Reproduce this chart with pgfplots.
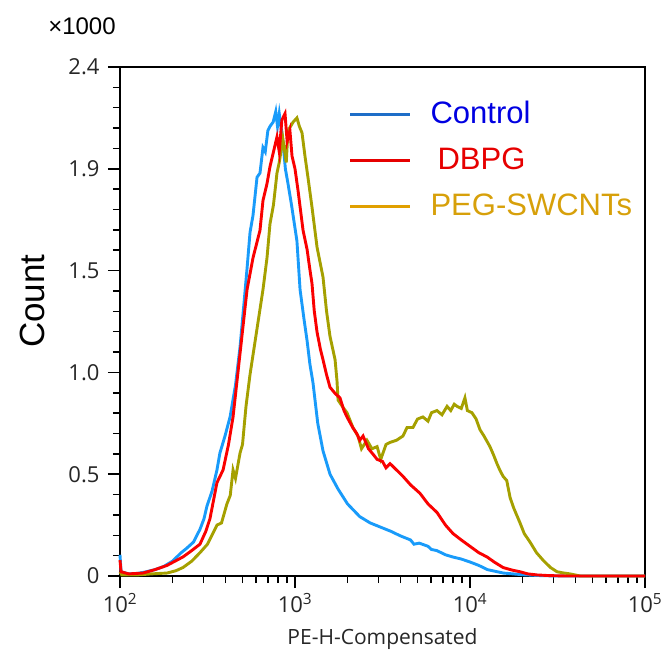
\documentclass[border=0pt]{standalone}
\usepackage{pgfplots}
\usepackage{pgfplotstable}
\pgfplotsset{compat=1.18}
\usepackage{fontspec}
\setmainfont{Liberation Sans}
\newfontfamily\tickfont{Open Sans}
\definecolor{ctrl}{RGB}{25,155,250}
\definecolor{dbpg}{RGB}{250,0,0}
\definecolor{peg}{RGB}{165,160,0}
\definecolor{legctrl}{RGB}{30,110,200}
\definecolor{legdbpg}{RGB}{230,0,0}
\definecolor{legpeg}{RGB}{225,160,0}
\definecolor{txtctrl}{RGB}{0,0,225}
\definecolor{txtdbpg}{RGB}{230,0,0}
\definecolor{txtpeg}{RGB}{215,160,10}

\pgfplotstableread{
lx y
2.000 0.10
2.006 0.02
2.05 0.01
2.10 0.012
2.15 0.02
2.20 0.03
2.25 0.045
2.30 0.07
2.35 0.11
2.38 0.13
2.42 0.16
2.457 0.22
2.48 0.27
2.497 0.33
2.526 0.40
2.554 0.50
2.571 0.58
2.60 0.66
2.629 0.75
2.66 0.90
2.686 1.08
2.71 1.30
2.726 1.45
2.743 1.62
2.76 1.70
2.783 1.88
2.80 1.90
2.817 2.02
2.83 2.00
2.845 2.10
2.857 2.12
2.875 2.14
2.89 2.19
2.90 2.12
2.91 2.18
2.931 2.05
2.945 1.92
2.96 1.85
2.98 1.75
3.011 1.58
3.029 1.35
3.05 1.22
3.069 1.11
3.085 1.00
3.103 0.91
3.13 0.72
3.16 0.59
3.20 0.48
3.246 0.41
3.30 0.34
3.37 0.28
3.43 0.25
3.49 0.23
3.55 0.21
3.60 0.19
3.63 0.18
3.66 0.17
3.68 0.15
3.71 0.155
3.76 0.14
3.78 0.125
3.81 0.12
3.86 0.10
3.90 0.09
3.95 0.08
4.00 0.066
4.05 0.05
4.10 0.03
4.19 0.014
4.30 0.006
4.40 0.002
4.50 0
5.00 0
}\ctrltable

\pgfplotstableread{
lx y
2.000 0.075
2.006 0.02
2.05 0.01
2.131 0.014
2.20 0.03
2.269 0.05
2.36 0.09
2.41 0.12
2.457 0.15
2.49 0.21
2.514 0.27
2.554 0.44
2.589 0.50
2.62 0.62
2.646 0.75
2.686 1.05
2.726 1.35
2.76 1.50
2.80 1.63
2.817 1.77
2.84 1.85
2.857 1.93
2.877 2.00
2.897 2.07
2.91 2.00
2.925 2.15
2.943 2.18
2.955 2.05
2.971 2.10
2.983 1.98
3.00 1.92
3.017 1.82
3.046 1.63
3.069 1.54
3.086 1.44
3.097 1.38
3.11 1.25
3.126 1.15
3.145 1.07
3.16 1.02
3.18 0.95
3.20 0.89
3.23 0.86
3.257 0.84
3.28 0.78
3.297 0.75
3.33 0.70
3.354 0.67
3.37 0.64
3.389 0.66
3.42 0.60
3.45 0.57
3.469 0.55
3.50 0.54
3.52 0.51
3.543 0.53
3.58 0.50
3.617 0.47
3.66 0.43
3.714 0.39
3.76 0.34
3.811 0.30
3.86 0.24
3.903 0.20
3.95 0.17
4.00 0.14
4.05 0.11
4.097 0.09
4.14 0.065
4.189 0.04
4.24 0.028
4.286 0.02
4.33 0.01
4.383 0.005
4.45 0.002
4.55 0
5.00 0
}\dbpgtable

\pgfplotstableread{
lx y
2.000 0.02
2.01 0.005
2.10 0.005
2.18 0.01
2.269 0.014
2.32 0.025
2.36 0.04
2.41 0.07
2.457 0.11
2.50 0.15
2.554 0.24
2.58 0.25
2.611 0.34
2.63 0.38
2.646 0.50
2.66 0.46
2.686 0.58
2.70 0.62
2.72 0.80
2.743 0.95
2.78 1.15
2.817 1.35
2.84 1.50
2.857 1.66
2.877 1.75
2.897 1.90
2.91 1.95
2.931 2.06
2.95 1.95
2.96 2.10
2.989 2.14
3.011 2.16
3.025 2.12
3.04 2.09
3.057 1.98
3.074 1.88
3.097 1.74
3.126 1.55
3.16 1.41
3.18 1.25
3.20 1.13
3.229 1.02
3.24 0.92
3.246 0.83
3.27 0.80
3.297 0.77
3.331 0.70
3.36 0.66
3.38 0.60
3.411 0.64
3.44 0.60
3.469 0.61
3.49 0.55
3.503 0.58
3.52 0.62
3.543 0.63
3.58 0.64
3.617 0.66
3.64 0.70
3.674 0.70
3.70 0.74
3.731 0.75
3.76 0.73
3.78 0.77
3.811 0.78
3.84 0.76
3.869 0.80
3.89 0.78
3.91 0.81
3.926 0.80
3.95 0.79
3.971 0.84
3.985 0.78
4.011 0.77
4.035 0.74
4.057 0.69
4.08 0.66
4.114 0.61
4.135 0.57
4.154 0.53
4.17 0.50
4.189 0.47
4.21 0.45
4.229 0.37
4.25 0.32
4.286 0.25
4.31 0.20
4.343 0.16
4.38 0.11
4.417 0.075
4.46 0.04
4.497 0.02
4.53 0.015
4.571 0.01
4.63 0
5.00 0
}\pegtable

\begin{document}
\begin{tikzpicture}
\begin{axis}[
  name=ax,
  scale only axis,
  width=525bp, height=509bp,
  xmin=2, xmax=5, ymin=0, ymax=2.4,
  clip=false,
  axis line style={line width=2bp, black},
  tick pos=left, tick align=outside,
  major tick length=12bp, minor tick length=7bp,
  every tick/.style={line width=1.5bp, black},
  xtick={2,3,4,5},
  xticklabels={10\textsuperscript{2},10\textsuperscript{3},10\textsuperscript{4},10\textsuperscript{5}},
  minor xtick={2.301,2.477,2.602,2.699,2.778,2.845,2.903,2.954,
               3.301,3.477,3.602,3.699,3.778,3.845,3.903,3.954,
               4.301,4.477,4.602,4.699,4.778,4.845,4.903,4.954},
  ytick={0,0.48,0.96,1.44,1.92,2.4},
  yticklabels={0,0.5,1.0,1.5,1.9,2.4},
  minor y tick num=4,
  /pgf/number format/assume math mode=true,
  ticklabel style={font=\tickfont\fontsize{22bp}{26bp}\selectfont, text=black!85},
  yticklabel style={xshift=-5bp},
  xticklabel style={yshift=-2bp},
  xlabel={PE-H-Compensated},
  xlabel style={font=\tickfont\fontsize{21bp}{25bp}\selectfont, text=black!85, at={(axis description cs:0.5,-0.097)}, anchor=north},
  ylabel={Count},
  ylabel style={font=\fontsize{35bp}{40bp}\selectfont, at={(axis description cs:-0.143,0.54)}, anchor=south, inner sep=0pt},
  legend style={at={(0.43,0.94)}, anchor=north west, draw=none, fill=none,
     font=\fontsize{31bp}{35bp}\selectfont,
     nodes={text height=22bp, text depth=3bp, inner sep=2bp},
     row sep=17bp},
  legend cell align=left,
  legend image code/.code={\draw[#1] (0bp,0bp) -- (60bp,0bp);},
  /tikz/every even column/.append style={column sep=0bp},
]
\addplot[ctrl, line width=2.9bp, forget plot] table[x=lx,y=y] {\ctrltable};
\addplot[peg, line width=2.9bp, forget plot] table[x=lx,y=y] {\pegtable};
\addplot[dbpg, line width=2.9bp, forget plot] table[x=lx,y=y] {\dbpgtable};
\addlegendimage{legctrl, line width=2.6bp}
\addlegendentry{\hspace{17bp}\textcolor{txtctrl}{Control}}
\addlegendimage{legdbpg, line width=2.6bp}
\addlegendentry{\hspace{24bp}\textcolor{txtdbpg}{DBPG}}
\addlegendimage{legpeg, line width=2.6bp}
\addlegendentry{\hspace{17bp}\textcolor{txtpeg}{PEG-SWCNTs}}
\node[anchor=base west, font=\fontsize{24bp}{28bp}\selectfont, inner sep=0pt] at (axis description cs:-0.137,1.063) {×1000};
\end{axis}
\pgfresetboundingbox
\path ([shift={(-120bp,-83bp)}]ax.south west) rectangle ([shift={(25bp,67bp)}]ax.north east);
\end{tikzpicture}
\end{document}
